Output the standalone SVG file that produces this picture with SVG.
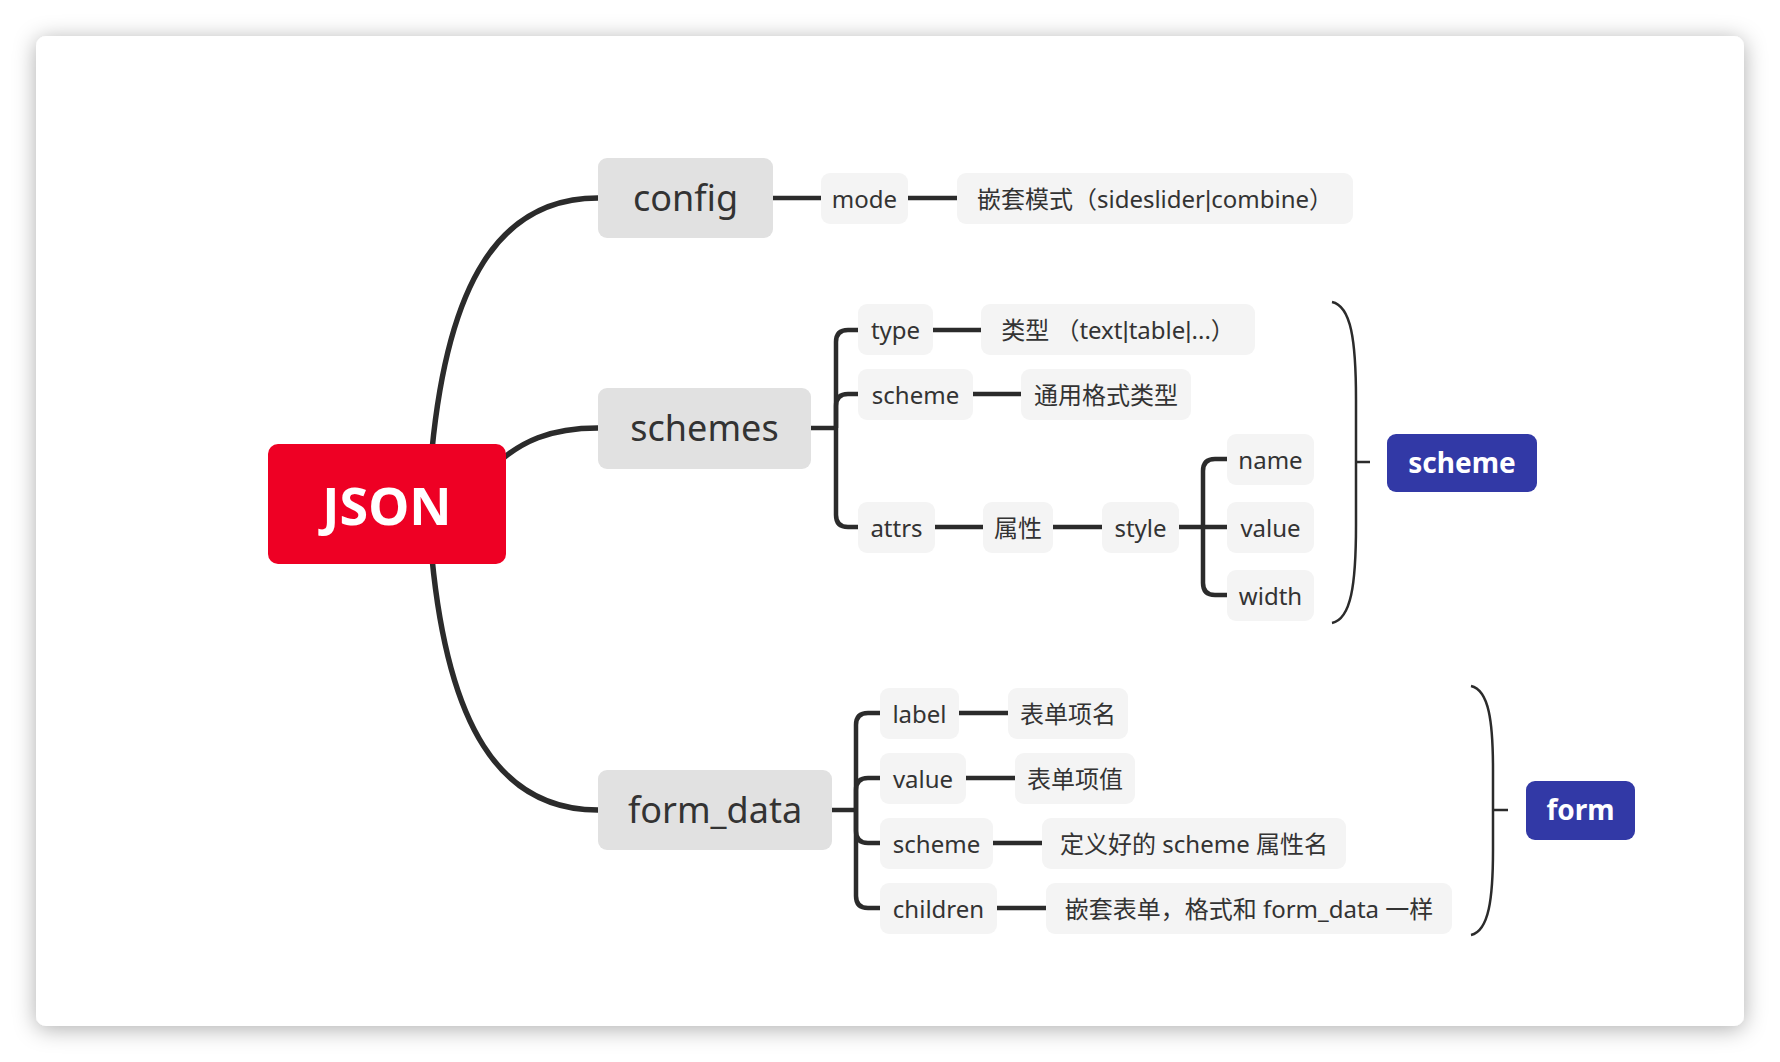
<svg xmlns="http://www.w3.org/2000/svg" width="1780" height="1062" viewBox="0 0 1780 1062">
<defs>
<filter id="sh" x="-5%" y="-8%" width="110%" height="116%"><feDropShadow dx="0" dy="3" stdDeviation="11" flood-color="#000" flood-opacity="0.32"/></filter>
<style>
text{font-family:"Noto Sans","Noto Sans CJK SC",sans-serif;text-anchor:middle;dominant-baseline:central;fill:#333}
.bar{font-family:"Liberation Sans",sans-serif}
.main rect{fill:#e1e1e1}
.main text{font-size:36px}
.sub rect{fill:#f4f4f4}
.sub text{font-size:24px}
.sum rect{fill:#3239a6}
.sum text{font-size:28px;font-weight:bold;fill:#fff}
.c{fill:none;stroke:#2b2b2b;stroke-linecap:butt}
.c1{stroke-width:5.5}
.c2{stroke-width:4.5}
.br{fill:none;stroke:#2b2b2b;stroke-width:2.5}
</style>
</defs>
<rect x="0" y="0" width="1780" height="1062" fill="#fff"/>
<rect x="36" y="36" width="1708" height="990" rx="10" fill="#fff" filter="url(#sh)"/>

<g id="connectors">
<path class="c c1" d="M432 450 C448 285 498 198 598 198"/>
<path class="c c1" d="M490 470 C520 440 552 428 598 428"/>
<path class="c c1" d="M432 558 C448 723 498 810 598 810"/>
<path class="c c2" d="M773 198 H821"/>
<path class="c c2" d="M908 198 H957"/>
<path class="c c2" d="M811 428 H836"/>
<path class="c c2" d="M836 428 V342 Q836 330 848 330 H858"/>
<path class="c c2" d="M836 428 V406 Q836 394 848 394 H858"/>
<path class="c c2" d="M836 428 V515 Q836 527 848 527 H858"/>
<path class="c c2" d="M933 330 H981"/>
<path class="c c2" d="M973 394 H1021"/>
<path class="c c2" d="M935 527 H983"/>
<path class="c c2" d="M1053 527 H1102"/>
<path class="c c2" d="M1179 527 H1227"/>
<path class="c c2" d="M1203 527 V471 Q1203 459 1215 459 H1227"/>
<path class="c c2" d="M1203 527 V583 Q1203 595 1215 595 H1227"/>
<path class="c c2" d="M832 810 H856"/>
<path class="c c2" d="M856 810 V725 Q856 713 868 713 H880"/>
<path class="c c2" d="M856 810 V790 Q856 778 868 778 H880"/>
<path class="c c2" d="M856 810 V831 Q856 843 868 843 H880"/>
<path class="c c2" d="M856 810 V896 Q856 908 868 908 H880"/>
<path class="c c2" d="M959 713 H1008"/>
<path class="c c2" d="M966 778 H1015"/>
<path class="c c2" d="M993 843 H1042"/>
<path class="c c2" d="M997 908 H1046"/>
<path class="br" d="M1332 302 C1351 306 1356 340 1356 400 L1356 525 C1356 585 1351 619 1332 623"/>
<path class="br" d="M1356 462 H1370"/>
<path class="br" d="M1471 686 C1489 690 1493 722 1493 770 L1493 850 C1493 898 1489 931 1471 935"/>
<path class="br" d="M1493 810 H1508"/>
</g>

<g id="json"><rect x="268" y="444" width="238" height="120" rx="10" fill="#ee0024"/><text x="387" y="504" style="font-size:52px;font-weight:bold;fill:#fff">JSON</text></g>

<g id="config" class="main"><rect x="598" y="158" width="175" height="80" rx="9"/><text x="685.5" y="197">config</text></g>
<g id="schemes" class="main"><rect x="598" y="388" width="213" height="81" rx="9"/><text x="704.5" y="427">schemes</text></g>
<g id="form_data" class="main"><rect x="598" y="770" width="234" height="80" rx="9"/><text x="715" y="809">form_data</text></g>

<g id="mode" class="sub"><rect x="821" y="173" width="87" height="51" rx="9"/><text x="864.5" y="198">mode</text></g>
<g id="mode-desc" class="sub"><rect x="957" y="173" width="396" height="51" rx="9"/><text x="1155" y="198">嵌套模式（sideslider<tspan class="bar">|</tspan>combine）</text></g>

<g id="type" class="sub"><rect x="858" y="304" width="75" height="51" rx="9"/><text x="895.5" y="329">type</text></g>
<g id="type-desc" class="sub"><rect x="981" y="304" width="274" height="51" rx="9"/><text x="1118" y="329">类型 （text<tspan class="bar">|</tspan>table<tspan class="bar">|</tspan>...）</text></g>
<g id="scheme1" class="sub"><rect x="858" y="369" width="115" height="51" rx="9"/><text x="915.5" y="394">scheme</text></g>
<g id="scheme1-desc" class="sub"><rect x="1021" y="369" width="170" height="51" rx="9"/><text x="1106" y="394">通用格式类型</text></g>
<g id="attrs" class="sub"><rect x="858" y="502" width="77" height="51" rx="9"/><text x="896.5" y="527">attrs</text></g>
<g id="attrs-desc" class="sub"><rect x="983" y="502" width="70" height="51" rx="9"/><text x="1018" y="527">属性</text></g>
<g id="style" class="sub"><rect x="1102" y="502" width="77" height="51" rx="9"/><text x="1140.5" y="527">style</text></g>
<g id="name" class="sub"><rect x="1227" y="434" width="87" height="51" rx="9"/><text x="1270.5" y="459">name</text></g>
<g id="value1" class="sub"><rect x="1227" y="502" width="87" height="51" rx="9"/><text x="1270.5" y="527">value</text></g>
<g id="width" class="sub"><rect x="1227" y="570" width="87" height="51" rx="9"/><text x="1270.5" y="595">width</text></g>

<g id="label" class="sub"><rect x="880" y="688" width="79" height="51" rx="9"/><text x="919.5" y="713">label</text></g>
<g id="label-desc" class="sub"><rect x="1008" y="688" width="120" height="51" rx="9"/><text x="1068" y="713">表单项名</text></g>
<g id="value2" class="sub"><rect x="880" y="753" width="86" height="51" rx="9"/><text x="923" y="778">value</text></g>
<g id="value2-desc" class="sub"><rect x="1015" y="753" width="120" height="51" rx="9"/><text x="1075" y="778">表单项值</text></g>
<g id="scheme2" class="sub"><rect x="880" y="818" width="113" height="51" rx="9"/><text x="936.5" y="843">scheme</text></g>
<g id="scheme2-desc" class="sub"><rect x="1042" y="818" width="304" height="51" rx="9"/><text x="1194" y="843">定义好的 scheme 属性名</text></g>
<g id="children" class="sub"><rect x="880" y="883" width="117" height="51" rx="9"/><text x="938.5" y="908">children</text></g>
<g id="children-desc" class="sub"><rect x="1046" y="883" width="406" height="51" rx="9"/><text x="1249" y="908">嵌套表单，格式和 form_data 一样</text></g>

<g id="scheme-summary" class="sum"><rect x="1387" y="434" width="150" height="58" rx="9"/><text x="1462" y="462">scheme</text></g>
<g id="form-summary" class="sum"><rect x="1526" y="781" width="109" height="59" rx="9"/><text x="1580.5" y="809">form</text></g>
</svg>
